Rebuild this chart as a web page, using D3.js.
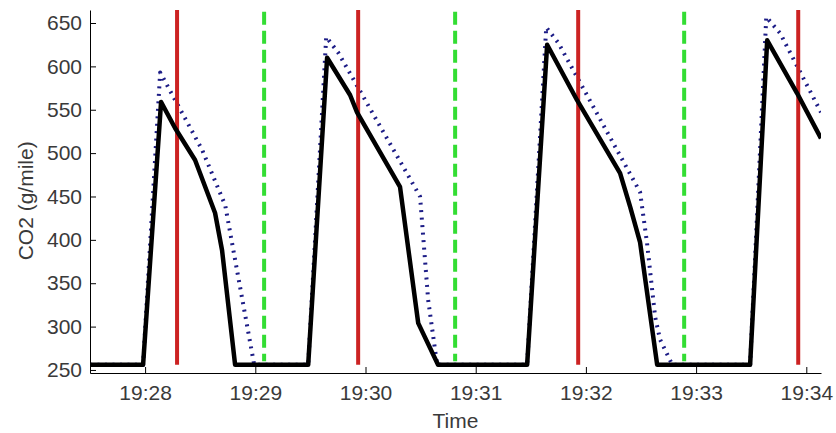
<!DOCTYPE html>
<html>
<head>
<meta charset="utf-8">
<script src="https://cdn.jsdelivr.net/npm/d3@7"></script>
<style>
  body { margin: 0; background: #fff; }
  text { font-family: "Liberation Sans", Arial, sans-serif; }
</style>
</head>
<body>
<div id="chart"></div>
<script>
// Measured CO2 (black, solid)
const blackTimes = ["19:27:30", "19:27:58.9", "19:28:08.7", "19:28:16.3", "19:28:27.2", "19:28:38.1", "19:28:41.9", "19:28:49.0",
    "19:29:28.8", "19:29:39.1", "19:29:51.6", "19:29:55.4", "19:30:18.8", "19:30:28.7", "19:30:39.5",
    "19:31:28.0", "19:31:38.9", "19:31:55.2", "19:32:18.6", "19:32:24.1", "19:32:29.5", "19:32:38.8",
    "19:33:29.4", "19:33:38.7", "19:33:55.0", "19:34:08.0"];
const blackCO2 = [256, 256, 559, 529, 492, 431, 388, 256,
    256, 610, 567, 547, 461, 304, 256,
    256, 625, 561, 477, 438, 397, 256,
    256, 630, 569, 517];

// Second series (blue, dotted)
const blueTimes = ["19:27:30", "19:27:58.9", "19:28:08.2", "19:28:31.0", "19:28:43.6", "19:28:59.4",
    "19:29:28.8", "19:29:38.6", "19:29:45.1", "19:30:29.7", "19:30:34.1", "19:30:39.0",
    "19:31:28.0", "19:31:38.4", "19:31:45.0", "19:32:29.5", "19:32:33.3", "19:32:37.7", "19:32:40.4", "19:32:47.0",
    "19:33:29.4", "19:33:38.2", "19:33:45.8", "19:34:08.0"];
const blueCO2 = [256, 256, 593, 504, 440, 256,
    256, 634, 616, 450, 331, 256,
    256, 645, 627, 455, 396, 311, 285, 256,
    256, 657, 638, 547];

// Event markers
const redTimes = ["19:28:17.4", "19:29:56.0", "19:31:55.8", "19:33:55.6"];
const redSpan = [256, 665];
const greenTimes = ["19:29:04.8", "19:30:48.8", "19:32:53.5"];
const greenSpan = [260, 663];

// Axes
const xTicks = ["19:28", "19:29", "19:30", "19:31", "19:32", "19:33", "19:34"];
const yTicks = [250, 300, 350, 400, 450, 500, 550, 600, 650];
const xRange = ["19:27:30", "19:34:08"];
const yRange = [246.5, 665];

const parseT = s => {
    const [h, m, sec] = s.split(":").map(Number);
    return new Date(2000, 0, 1, h, m, 0, Math.round((sec || 0) * 1000));
};

const width = 836, height = 433;
const margin = {top: 10, right: 15, bottom: 60, left: 90};
const w = width - margin.left - margin.right;
const h = height - margin.top - margin.bottom;

const svg = d3.select("#chart").append("svg")
    .attr("width", width)
    .attr("height", height);

const g = svg.append("g")
    .attr("transform", `translate(${margin.left},${margin.top})`);

const x = d3.scaleTime().domain(xRange.map(parseT)).range([0, w]);
const y = d3.scaleLinear().domain(yRange).range([h, 0]);

svg.append("defs").append("clipPath").attr("id", "clip")
    .append("rect").attr("width", w).attr("height", h);

const plot = g.append("g").attr("clip-path", "url(#clip)");

const line = d3.line().x(d => x(d[0])).y(d => y(d[1]));

// Blue dotted series underneath
plot.append("path")
    .datum(blueTimes.map((t, i) => [parseT(t), blueCO2[i]]))
    .attr("d", line)
    .attr("fill", "none")
    .attr("stroke", "#1c1c86")
    .attr("stroke-width", 4)
    .attr("stroke-linejoin", "round")
    .attr("stroke-dasharray", "2,5.5");

// Event lines
plot.selectAll(".red")
    .data(redTimes)
    .enter().append("line")
    .attr("x1", d => x(parseT(d))).attr("x2", d => x(parseT(d)))
    .attr("y1", y(redSpan[0])).attr("y2", y(redSpan[1]))
    .attr("stroke", "#cc2222")
    .attr("stroke-width", 4);

plot.selectAll(".green")
    .data(greenTimes)
    .enter().append("line")
    .attr("x1", d => x(parseT(d))).attr("x2", d => x(parseT(d)))
    .attr("y1", y(greenSpan[1])).attr("y2", y(greenSpan[0]))
    .attr("stroke", "#33dd33")
    .attr("stroke-width", 4)
    .attr("stroke-dasharray", "13,6");

// Black solid series on top
plot.append("path")
    .datum(blackTimes.map((t, i) => [parseT(t), blackCO2[i]]))
    .attr("d", line)
    .attr("fill", "none")
    .attr("stroke", "#000")
    .attr("stroke-width", 4.5)
    .attr("stroke-linejoin", "round");

// Axes with inward ticks
const xAxis = g.append("g")
    .attr("transform", `translate(0,${h})`)
    .call(d3.axisBottom(x)
        .tickValues(xTicks.map(parseT))
        .tickFormat(d3.timeFormat("%H:%M"))
        .tickSizeInner(-6).tickSizeOuter(0).tickPadding(12));

const yAxis = g.append("g")
    .call(d3.axisLeft(y)
        .tickValues(yTicks)
        .tickSizeInner(-6).tickSizeOuter(0).tickPadding(8));

[xAxis, yAxis].forEach(a => {
    a.selectAll("text")
        .style("font-size", "21px")
        .style("font-family", "'Liberation Sans', Arial, sans-serif")
        .attr("fill", "#3a3a3a");
    a.select(".domain").attr("stroke", "#000");
    a.selectAll(".tick line").attr("stroke", "#000");
});

// Axis titles
svg.append("text")
    .attr("x", margin.left + w / 2)
    .attr("y", 428)
    .attr("text-anchor", "middle")
    .style("font-size", "21px")
    .attr("fill", "#3a3a3a")
    .text("Time");

svg.append("text")
    .attr("transform", `translate(33,${margin.top + y(445)}) rotate(-90)`)
    .attr("text-anchor", "middle")
    .style("font-size", "21px")
    .attr("fill", "#3a3a3a")
    .text("CO2 (g/mile)");
</script>
</body>
</html>
